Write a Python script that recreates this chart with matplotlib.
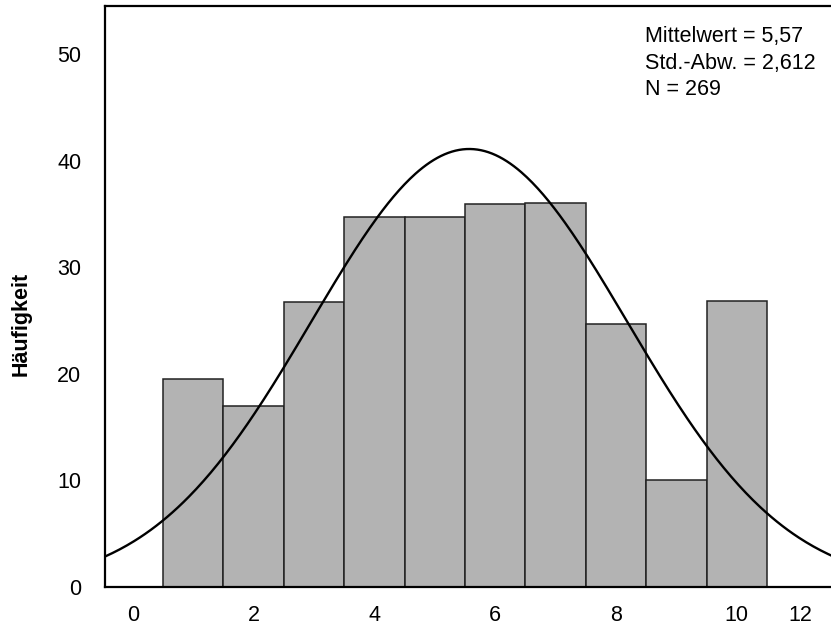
import numpy as np
import matplotlib
matplotlib.use('Agg')
from matplotlib import pyplot as plt

plt.rcParams['font.family'] = ['Liberation Sans', 'DejaVu Sans']

# Werte aus dem Histogramm (Klassenmitte, Häufigkeit)
klassen = [1, 2, 3, 4, 5, 6, 7, 8, 9, 10]
haeufigkeit = [19.5, 17.0, 26.7, 34.7, 34.7, 35.9, 36.0, 24.7, 10.0, 26.8]
mittelwert = 5.57
std_abw = 2.612
n = 269
xtick_pos = [0, 2, 4, 6, 8, 10, 11.05]
xtick_lab = ['0', '2', '4', '6', '8', '10', '12']
ytick_pos = [0, 10, 20, 30, 40, 50]


def histogramm():
    fig = plt.figure(figsize=(8.31, 6.25), dpi=100)
    ax = fig.add_axes([0.1264, 0.0608, 0.8736, 0.9296])

    ax.bar(klassen, haeufigkeit, width=1.0, color='#b3b3b3',
           edgecolor='#222222', linewidth=1.1, zorder=2)

    # Normalverteilungskurve
    xs = np.linspace(-0.46, 11.6, 400)
    ys = n * 1.0 / (std_abw * np.sqrt(2 * np.pi)) * np.exp(-0.5 * ((xs - mittelwert) / std_abw) ** 2)
    ax.plot(xs, ys, color='black', linewidth=1.7, zorder=3)

    ax.set_xlim(-0.46, 11.56)
    ax.set_ylim(0, 54.5)

    ax.set_xticks(xtick_pos)
    ax.set_xticklabels(xtick_lab)
    ax.set_yticks(ytick_pos)
    ax.tick_params(axis='both', length=0, labelsize=15.5)
    ax.tick_params(axis='y', pad=17)
    ax.tick_params(axis='x', pad=13)

    for s in ['left', 'bottom', 'top']:
        ax.spines[s].set_linewidth(1.6)
    ax.spines['right'].set_visible(False)

    fig.text(0.026, 0.4824, 'Häufigkeit', rotation=90,
             fontsize=15.5, fontweight='bold', ha='center', va='center')

    ax.text(0.744, 0.965, 'Mittelwert = 5,57\nStd.-Abw. = 2,612\nN = 269',
            transform=ax.transAxes, fontsize=15.5, va='top', ha='left',
            linespacing=1.33)

    fig.savefig('out.png', dpi=100)


if __name__ == '__main__':
    histogramm()
